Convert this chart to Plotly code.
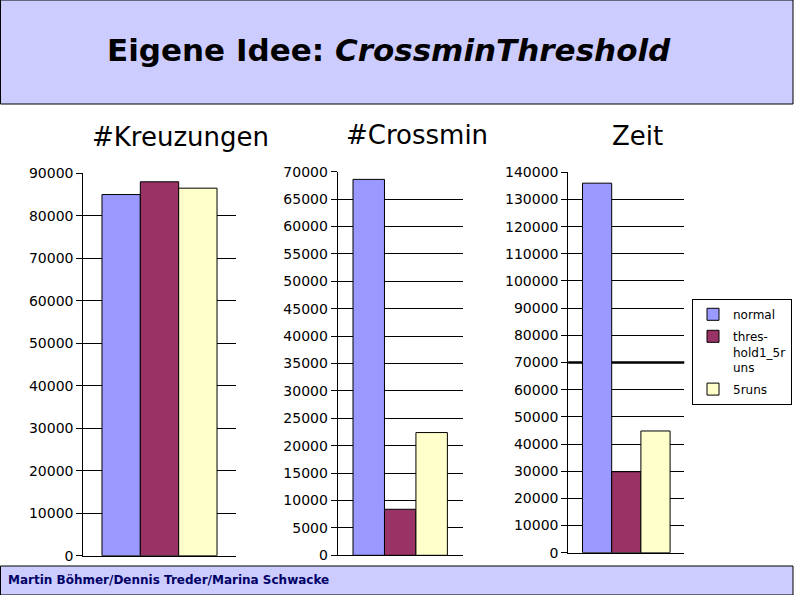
import plotly.graph_objects as go

W, H = 794, 595

series = ["normal", "thres-<br>hold1_5r<br>uns", "5runs"]
colors = ["#9999FF", "#993366", "#FFFFCC"]

kreuzungen = [85000, 88000, 86500]
crossmin = [68600, 8400, 22400]
zeit = [136000, 29800, 44800]

chart_titles = ["#Kreuzungen", "#Crossmin", "Zeit"]
y_ranges = [(0, 90000, 10000), (0, 70000, 5000), (0, 140000, 10000)]

# plot areas in pixels: (left, right, top, bottom)
areas = [(83.3, 235.7, 173.3, 555.7), (337.7, 462.7, 171.7, 555.3), (568.3, 684.3, 172.3, 552.7)]
title_pos = [(180, 137), (416.5, 135), (637.5, 136)]

data_sets = [kreuzungen, crossmin, zeit]

fig = go.Figure()

for i, vals in enumerate(data_sets):
    ax = "" if i == 0 else str(i + 1)
    for j, name in enumerate(series):
        fig.add_trace(go.Bar(
            x=[""], y=[vals[j]], name=name,
            marker=dict(color=colors[j], line=dict(color="black", width=1)),
            xaxis="x" + ax, yaxis="y" + ax,
            showlegend=(i == 2), legendgroup=name,
            hoverinfo="y",
        ))

layout = dict(
    width=W, height=H, autosize=False,
    margin=dict(l=0, r=0, t=0, b=0, pad=0, autoexpand=False),
    paper_bgcolor="white", plot_bgcolor="white",
    barmode="group", bargap=0.245, bargroupgap=0,
    font=dict(family="DejaVu Sans", color="black"),
    showlegend=True,
    legend=dict(
        x=692 / W, y=1 - 299 / H, xanchor="left", yanchor="top",
        bgcolor="white", bordercolor="black", borderwidth=1,
        font=dict(family="DejaVu Sans", size=12, color="black"),
        valign="top", tracegroupgap=3, itemwidth=30,
    ),
)

annotations = []
for i, (l, r, t, b) in enumerate(areas):
    ax = "" if i == 0 else str(i + 1)
    lo, hi, dt = y_ranges[i]
    layout["xaxis" + ax] = dict(
        domain=[l / W, r / W], anchor="y" + ax,
        showline=True, linecolor="black", linewidth=1,
        showticklabels=False, ticks="", showgrid=False, zeroline=False,
        fixedrange=True, automargin=False,
    )
    layout["yaxis" + ax] = dict(
        domain=[1 - b / H, 1 - t / H], anchor="x" + ax,
        range=[lo, hi], dtick=dt, tick0=0, tickformat="d",
        showline=True, linecolor="black", linewidth=1,
        ticks="outside", ticklen=6, tickcolor="black", tickwidth=1,
        showgrid=True, gridcolor="black", gridwidth=1, zeroline=False,
        tickfont=dict(family="DejaVu Sans", size=14, color="black"),
        fixedrange=True, automargin=False,
    )
    tx, ty = title_pos[i]
    annotations.append(dict(
        text=chart_titles[i], x=tx / W, y=1 - ty / H, xref="paper", yref="paper",
        xanchor="center", yanchor="middle", showarrow=False,
        font=dict(family="DejaVu Sans", size=26, color="black"),
    ))

annotations.append(dict(
    text="<b>Eigene Idee: <i>CrossminThreshold</i></b>",
    x=389 / W, y=1 - 50 / H, xref="paper", yref="paper",
    xanchor="center", yanchor="middle", showarrow=False,
    font=dict(family="DejaVu Sans", size=31, color="black"),
))
annotations.append(dict(
    text="<b>Martin Böhmer/Dennis Treder/Marina Schwacke</b>",
    x=6 / W, y=1 - 580 / H, xref="paper", yref="paper",
    xanchor="left", yanchor="middle", showarrow=False,
    font=dict(family="DejaVu Sans", size=12, color="#000066"),
))
layout["annotations"] = annotations

layout["shapes"] = [
    dict(type="rect", xref="paper", yref="paper", x0=0.5 / W, x1=793 / W, y0=1 - 104 / H, y1=1,
         fillcolor="#CCCCFF", line=dict(color="black", width=1), layer="below"),
    dict(type="rect", xref="paper", yref="paper", x0=0.5 / W, x1=793 / W, y0=0, y1=1 - 566 / H,
         fillcolor="#CCCCFF", line=dict(color="black", width=1), layer="below"),
    dict(type="line", xref="x3 domain", yref="y3", x0=0, x1=1, y0=70000, y1=70000,
         line=dict(color="black", width=2.5), layer="below"),
]

fig.update_layout(**layout)
fig.write_html(
    "out.html",
    config={"displayModeBar": False},
    post_script="document.body.style.margin='0';document.body.style.overflow='hidden';",
)
